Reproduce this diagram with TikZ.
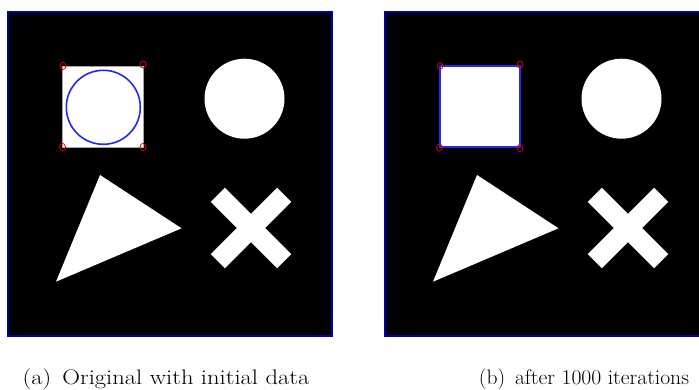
\documentclass[tikz,border=0pt]{standalone}
\usepackage{fontspec}
\definecolor{frameblue}{RGB}{0,0,165}
\definecolor{lineblue}{RGB}{40,40,235}
\definecolor{markred}{RGB}{220,0,0}
\begin{document}
\begin{tikzpicture}[x=1pt,y=-1pt,
  panel/.style={fill=black,draw=frameblue,line width=1.5pt},
  shapefill/.style={fill=white},
  marker/.style={draw=markred,line width=0.8pt},
  captiontext/.style={anchor=base,inner sep=0pt,font=\fontsize{21}{24}\selectfont}]
\useasboundingbox (0,0) rectangle (699,390);
\clip (0,0) rectangle (699,390);
% panels
\draw[panel] (8,12) rectangle (332,336);
\draw[panel] (385,12) rectangle (712,336);
% shapes common to both panels
\foreach \dx in {0,377}{
  \fill[shapefill] (244.5+\dx,98.7) circle (40);
  \fill[shapefill] (100+\dx,175) -- (181.5+\dx,228.3) -- (56+\dx,281.7) -- cycle;
  \fill[shapefill,rotate around={45:(251+\dx,228)}] (204+\dx,218) rectangle (298+\dx,238);
  \fill[shapefill,rotate around={-45:(251+\dx,228)}] (204+\dx,218) rectangle (298+\dx,238);
}
% left panel: initial square with circle
\draw[fill=white,draw=gray!70,line width=0.8pt] (62.5,66.5) rectangle (143.5,147.5);
\draw[lineblue,line width=1.6pt] (103.3,107.3) circle (37);
\foreach \p in {(63,66),(143,64.5),(62.5,147),(143,147)}
  \draw[marker] \p ellipse (3 and 3.6);
% right panel: converged square
\draw[fill=white,draw=lineblue,line width=2pt] (440,66.5) rectangle (520,147.5);
\foreach \p in {(440,66),(520,64.5),(439.5,147.5),(520,148)}
  \draw[marker] \p ellipse (3 and 3.6);
% captions
\node[captiontext] (capa) at (166,384) {\scalebox{1.17}[1]{(a)\hspace{0.45em}Original with initial data}};
\node[captiontext] (capb) at (584,384) {\scalebox{1.03}[1]{(b)\hspace{0.45em}after 1000 iterations}};
\end{tikzpicture}
\end{document}
